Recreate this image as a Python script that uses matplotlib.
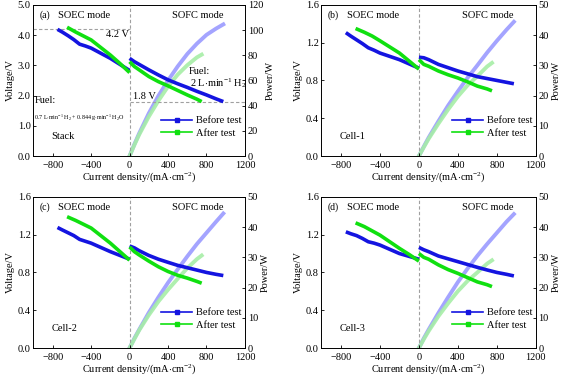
import matplotlib
matplotlib.use("Agg")
import matplotlib.pyplot as plt
from matplotlib.lines import Line2D

plt.rcParams["font.family"] = ["Liberation Serif", "DejaVu Serif"]
plt.rcParams["mathtext.fontset"] = "custom"
plt.rcParams["mathtext.rm"] = "Liberation Serif"
plt.rcParams["mathtext.it"] = "Liberation Serif:italic"

# SOEC branch (negative current), mA/cm2
soec_i_before = [-750, -700, -640, -580, -520, -460, -400, -300, -200, -100, 0]
soec_i_after = [-650, -560, -480, -400, -300, -200, -100, 0]
# SOFC branch
sofc_i_before = [0, 50, 100, 200, 300, 400, 500, 600, 700, 800, 900, 975]
sofc_i_after = [0, 50, 100, 200, 300, 400, 500, 600, 700, 750]

# (a) stack
a_soec_v_before = [4.19, 4.10, 3.98, 3.85, 3.70, 3.64, 3.57, 3.40, 3.23, 3.03, 2.83]
a_soec_v_after = [4.26, 4.10, 3.97, 3.84, 3.59, 3.34, 3.06, 2.76]
a_sofc_v_before = [3.23, 3.12, 3.03, 2.85, 2.68, 2.52, 2.39, 2.27, 2.14, 2.02, 1.89, 1.80]
a_sofc_v_after = [3.12, 2.96, 2.85, 2.63, 2.46, 2.32, 2.17, 2.02, 1.88, 1.80]
a_pow_before = [0, 9.3, 18.0, 33.9, 47.8, 60.0, 71.1, 81.0, 89.2, 96.2, 101.2, 104.5]
a_pow_after = [0, 8.8, 17.0, 31.3, 43.9, 55.2, 64.6, 72.1, 78.3, 80.5]

# (b) Cell-1
b_soec_v_before = [1.306, 1.27, 1.23, 1.19, 1.146, 1.12, 1.09, 1.055, 1.02, 0.975, 0.93]
b_soec_v_after = [1.35, 1.31, 1.27, 1.22, 1.155, 1.09, 1.005, 0.92]
b_sofc_v_before = [1.046, 1.04, 1.02, 0.97, 0.935, 0.90, 0.87, 0.84, 0.82, 0.80, 0.78, 0.765]
b_sofc_v_after = [1.02, 0.97, 0.95, 0.90, 0.86, 0.826, 0.785, 0.74, 0.71, 0.69]
b_pow_before = [0, 3.1, 6.1, 11.5, 16.7, 21.4, 25.9, 30.0, 34.2, 38.1, 41.8, 44.4]
b_pow_after = [0, 2.9, 5.7, 10.7, 15.4, 19.7, 23.4, 26.4, 29.6, 30.8]

# (c) Cell-2
c_soec_v_before = [1.276, 1.25, 1.22, 1.19, 1.15, 1.13, 1.11, 1.065, 1.02, 0.98, 0.94]
c_soec_v_after = [1.39, 1.35, 1.31, 1.27, 1.19, 1.11, 1.02, 0.93]
c_sofc_v_before = [1.08, 1.06, 1.03, 0.98, 0.94, 0.907, 0.875, 0.85, 0.825, 0.80, 0.78, 0.767]
c_sofc_v_after = [1.07, 1.02, 0.985, 0.92, 0.86, 0.81, 0.77, 0.74, 0.705, 0.686]
c_pow_before = [0, 3.2, 6.1, 11.7, 16.8, 21.6, 26.0, 30.3, 34.4, 38.1, 41.8, 44.5]
c_pow_after = [0, 3.0, 5.9, 10.9, 15.4, 19.3, 22.9, 26.4, 29.4, 30.6]

# (d) Cell-3
d_soec_v_before = [1.23, 1.21, 1.19, 1.16, 1.125, 1.11, 1.09, 1.045, 1.00, 0.97, 0.94]
d_soec_v_after = [1.325, 1.285, 1.24, 1.195, 1.125, 1.055, 0.99, 0.92]
d_sofc_v_before = [1.065, 1.04, 1.02, 0.974, 0.944, 0.914, 0.884, 0.854, 0.826, 0.80, 0.78, 0.763]
d_sofc_v_after = [1.00, 0.96, 0.94, 0.88, 0.83, 0.79, 0.745, 0.70, 0.67, 0.65]
d_pow_before = [0, 3.2, 6.1, 11.6, 16.8, 21.8, 26.3, 30.5, 34.4, 38.1, 41.8, 44.3]
d_pow_after = [0, 2.9, 5.6, 10.5, 14.8, 18.8, 22.2, 25.0, 27.9, 29.0]

BLUE = "#1414e0"
GREEN = "#10e010"
LBLUE = "#9a9aff"
LGREEN = "#a6eea6"
FS = 7.5

fig = plt.figure(figsize=(5.67, 3.75), dpi=100)
positions = [(0.059, 0.584, 0.373, 0.403), (0.567, 0.584, 0.378, 0.403),
             (0.059, 0.072, 0.373, 0.403), (0.567, 0.072, 0.378, 0.403)]
panels = [
    ("(a)", a_soec_v_before, a_soec_v_after, a_sofc_v_before, a_sofc_v_after, a_pow_before, a_pow_after, 5.0, 1.0, 120, 20, "Stack"),
    ("(b)", b_soec_v_before, b_soec_v_after, b_sofc_v_before, b_sofc_v_after, b_pow_before, b_pow_after, 1.6, 0.4, 50, 10, "Cell-1"),
    ("(c)", c_soec_v_before, c_soec_v_after, c_sofc_v_before, c_sofc_v_after, c_pow_before, c_pow_after, 1.6, 0.4, 50, 10, "Cell-2"),
    ("(d)", d_soec_v_before, d_soec_v_after, d_sofc_v_before, d_sofc_v_after, d_pow_before, d_pow_after, 1.6, 0.4, 50, 10, "Cell-3"),
]

for pos, (tag, sv_b, sv_a, fv_b, fv_a, p_b, p_a, vmax, vstep, pmax, pstep, name) in zip(positions, panels):
    ax = fig.add_axes(pos)
    ax2 = ax.twinx()
    ax.set_zorder(ax2.get_zorder() + 1)
    ax.patch.set_visible(False)

    kw = dict(lw=2.6, solid_capstyle="butt")
    ax2.plot(sofc_i_before, p_b, color=LBLUE, lw=2.8, alpha=0.9)
    ax2.plot(sofc_i_after, p_a, color=LGREEN, lw=2.8, alpha=0.9)
    ax.plot(soec_i_before, sv_b, color=BLUE, **kw)
    ax.plot(soec_i_after, sv_a, color=GREEN, **kw)
    ax.plot(sofc_i_before, fv_b, color=BLUE, **kw)
    ax.plot(sofc_i_after, fv_a, color=GREEN, **kw)

    ax.axvline(0, color="#a0a0a0", lw=0.8, ls=(0, (3, 2)), zorder=0)
    ax.set_xlim(-1000, 1200)
    ax.set_xticks([-800, -400, 0, 400, 800, 1200])
    ax.set_ylim(0, vmax)
    yt = [round(i * vstep, 2) for i in range(int(round(vmax / vstep)) + 1)]
    ax.set_yticks(yt)
    ax.set_yticklabels(["%.1f" % v for v in yt])
    ax2.set_ylim(0, pmax)
    ax2.set_yticks(list(range(0, pmax + 1, pstep)))
    for a in (ax, ax2):
        a.tick_params(direction="in", length=2.5, width=0.6, labelsize=FS, pad=2)
        for s in a.spines.values():
            s.set_linewidth(0.6)
    ax.tick_params(axis="x", pad=3.5)
    ax.set_xlabel("Current density/(mA$\\cdot$cm$^{-2}$)", fontsize=FS, labelpad=0)
    ax.set_ylabel("Voltage/V", fontsize=FS, labelpad=2)
    ax2.set_ylabel("Power/W", fontsize=FS, labelpad=2)

    ax.text(0.03, 0.93, tag, transform=ax.transAxes, fontsize=FS - 0.5, va="center")
    ax.text(-470, vmax * 0.933, "SOEC mode", fontsize=FS, ha="center", va="center")
    ax.text(710, vmax * 0.933, "SOFC mode", fontsize=FS, ha="center", va="center")
    ax.text(-815, vmax * 0.132, name, fontsize=FS, va="center")

    handles = [Line2D([], [], color=BLUE, lw=1.2, marker="s", ms=2.2),
               Line2D([], [], color=GREEN, lw=1.2, marker="s", ms=2.2)]
    ax.legend(handles, ["Before test", "After test"], loc="lower right",
              bbox_to_anchor=(1.02, 0.07), frameon=False, fontsize=FS,
              handlelength=3.0, handletextpad=0.4, labelspacing=0.35, borderpad=0.2)

    if tag == "(a)":
        ax.plot([-1000, 0], [4.2, 4.2], color="#a0a0a0", lw=0.8, ls=(0, (3, 2)), zorder=0)
        ax.plot([0, 1200], [1.8, 1.8], color="#a0a0a0", lw=0.8, ls=(0, (3, 2)), zorder=0)
        ax.text(-10, 4.03, "4.2 V", fontsize=FS, ha="right", va="center")
        ax.text(35, 1.96, "1.8 V", fontsize=FS, ha="left", va="center")
        ax.text(615, 2.79, "Fuel:", fontsize=FS, va="center")
        ax.text(625, 2.41, "2 L$\\cdot$min$^{-1}$ H$_2$", fontsize=FS, va="center")
        ax.text(-990, 1.85, "Fuel:", fontsize=FS, va="center")
        ax.text(-990, 1.25, "0.7 L$\\cdot$min$^{-1}$ H$_2$ + 0.844 g$\\cdot$min$^{-1}$ H$_2$O",
                fontsize=4.3, va="center")

fig.savefig("out.png", dpi=100)
